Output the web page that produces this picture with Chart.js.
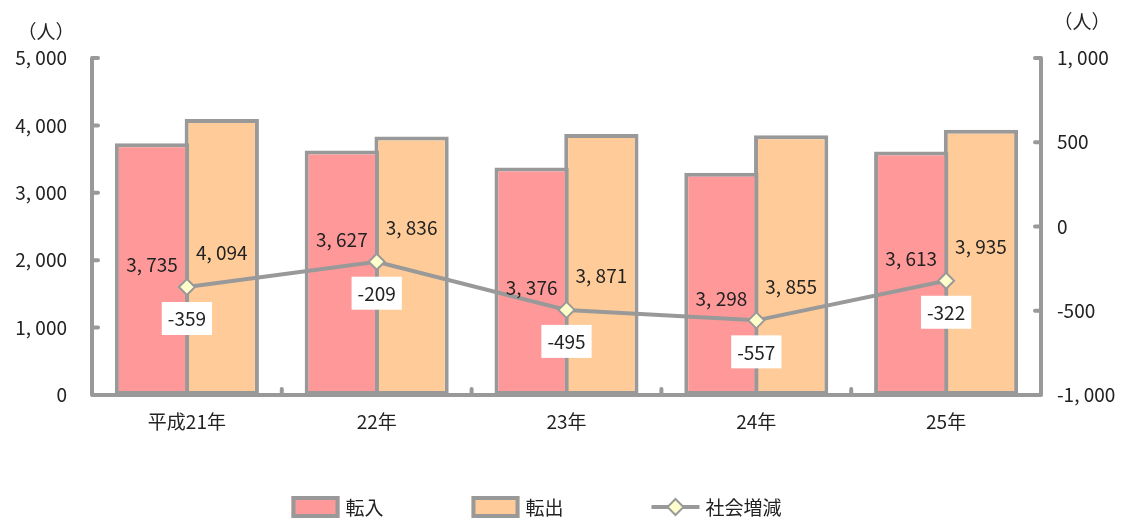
<!DOCTYPE html>
<html lang="ja">
<head>
<meta charset="utf-8">
<script src="https://cdn.jsdelivr.net/npm/chart.js@4"></script>
<style>
html, body { margin: 0; padding: 0; background: #fff; }
</style>
</head>
<body>
<canvas id="myChart" width="1133" height="523"></canvas>
<script>
const years = ['平成21年', '22年', '23年', '24年', '25年']
const tennyu = [3735, 3627, 3376, 3298, 3613]
const tenshutsu = [4094, 3836, 3871, 3855, 3935]
const shakai = [-359, -209, -495, -557, -322]
const seriesNames = ['転入', '転出', '社会増減']
const unitLabel = '（人）'

const GRAY = '#999999'
const PINK = '#FF9999'
const ORANGE = '#FFCC99'
const FONT = '"Noto Sans CJK JP", "Noto Sans", sans-serif'
const FSIZE = 19

const fmt = v => v.toLocaleString('en-US').replace(',', ', ')

// axis lines + small inner ticks, like the original
const axisPlugin = {
    id: 'axes',
    afterDatasetsDraw(chart) {
        const ctx = chart.ctx
        const a = chart.chartArea
        const ys = chart.scales.y
        const yr = chart.scales.y1
        ctx.save()
        ctx.strokeStyle = GRAY
        ctx.lineWidth = 4
        ctx.lineCap = 'round'
        ctx.beginPath()
        ctx.moveTo(a.left, a.top); ctx.lineTo(a.left, a.bottom)
        ctx.moveTo(a.right, a.top); ctx.lineTo(a.right, a.bottom)
        ctx.moveTo(a.left, a.bottom); ctx.lineTo(a.right, a.bottom)
        ys.ticks.forEach(t => {
            const y = ys.getPixelForValue(t.value)
            ctx.moveTo(a.left, y); ctx.lineTo(a.left + 6, y)
        })
        yr.ticks.forEach(t => {
            const y = yr.getPixelForValue(t.value)
            ctx.moveTo(a.right, y); ctx.lineTo(a.right - 6, y)
        })
        const step = a.width / years.length
        for (let i = 1; i < years.length; i++) {
            const x = a.left + step * i
            ctx.moveTo(x, a.bottom); ctx.lineTo(x, a.bottom - 6)
        }
        ctx.stroke()
        ctx.restore()
    }
}

// value labels, unit titles and the legend
const labelPlugin = {
    id: 'labels',
    afterDraw(chart) {
        const ctx = chart.ctx
        const line = chart.getDatasetMeta(0).data
        const inBars = chart.getDatasetMeta(1).data
        const outBars = chart.getDatasetMeta(2).data
        ctx.save()
        ctx.font = FSIZE + 'px ' + FONT
        ctx.fillStyle = '#222'
        ctx.textAlign = 'center'
        ctx.textBaseline = 'middle'

        line.forEach((pt, i) => {
            ctx.fillText(fmt(tennyu[i]), inBars[i].x, pt.y - 22)
            ctx.fillText(fmt(tenshutsu[i]), outBars[i].x, pt.y - 34)
            const txt = String(shakai[i])
            const w = ctx.measureText(txt).width + 12
            ctx.fillStyle = '#fff'
            ctx.fillRect(pt.x - w / 2, pt.y + 15, w, 33)
            ctx.fillStyle = '#222'
            ctx.fillText(txt, pt.x, pt.y + 32)
        })

        ctx.fillText(unitLabel, 46, 32)
        ctx.fillText(unitLabel, 1082, 22)

        // legend
        const cx = chart.width / 2
        const ly = 507
        const starts = [cx - 275, cx - 95, cx + 85]
        ctx.textAlign = 'left'
        ;[PINK, ORANGE].forEach((c, i) => {
            const x = starts[i]
            ctx.fillStyle = c
            ctx.fillRect(x, ly - 11, 48, 22)
            ctx.strokeStyle = GRAY
            ctx.lineWidth = 4
            ctx.strokeRect(x + 2, ly - 9, 44, 18)
            ctx.fillStyle = '#222'
            ctx.fillText(seriesNames[i], x + 54, ly + 1)
        })
        const x3 = starts[2]
        ctx.strokeStyle = GRAY
        ctx.lineWidth = 4
        ctx.beginPath()
        ctx.moveTo(x3, ly); ctx.lineTo(x3 + 48, ly)
        ctx.stroke()
        ctx.beginPath()
        ctx.moveTo(x3 + 24, ly - 8); ctx.lineTo(x3 + 32, ly)
        ctx.lineTo(x3 + 24, ly + 8); ctx.lineTo(x3 + 16, ly)
        ctx.closePath()
        ctx.fillStyle = '#FFFFCC'
        ctx.fill()
        ctx.lineWidth = 2
        ctx.stroke()
        ctx.fillStyle = '#222'
        ctx.fillText(seriesNames[2], x3 + 54, ly + 1)
        ctx.restore()
    }
}

const ctx = document.getElementById('myChart')

const myChart = new Chart(ctx, {
    type: 'bar',
    data: {
        labels: years,
        datasets: [{
            type: 'line',
            label: seriesNames[2],
            data: shakai,
            yAxisID: 'y1',
            order: 0,
            borderColor: GRAY,
            borderWidth: 4,
            pointStyle: 'rectRot',
            pointRadius: 8,
            pointBackgroundColor: '#FFFFCC',
            pointBorderColor: GRAY,
            pointBorderWidth: 2
        }, {
            label: seriesNames[0],
            data: tennyu,
            yAxisID: 'y',
            order: 1,
            backgroundColor: PINK,
            borderColor: GRAY,
            borderWidth: 4,
            borderSkipped: false,
            categoryPercentage: 0.735,
            barPercentage: 1.065
        }, {
            label: seriesNames[1],
            data: tenshutsu,
            yAxisID: 'y',
            order: 2,
            backgroundColor: ORANGE,
            borderColor: GRAY,
            borderWidth: 4,
            borderSkipped: false,
            categoryPercentage: 0.735,
            barPercentage: 1.065
        }]
    },
    options: {
        responsive: false,
        animation: false,
        layout: { padding: { top: 58, left: 0, right: 0, bottom: 0 } },
        plugins: {
            legend: { display: false },
            tooltip: { enabled: false }
        },
        scales: {
            x: {
                grid: { display: false, drawTicks: false },
                border: { display: false },
                ticks: { font: { size: FSIZE, family: FONT }, color: '#222', padding: 15 },
                afterFit: s => { s.height = 128 }
            },
            y: {
                position: 'left',
                min: 0,
                max: 5000,
                grid: { display: false, drawTicks: false },
                border: { display: false },
                ticks: { stepSize: 1000, callback: fmt, font: { size: FSIZE, family: FONT }, color: '#222', padding: 25 },
                afterFit: s => { s.width = 92 }
            },
            y1: {
                position: 'right',
                min: -1000,
                max: 1000,
                grid: { display: false, drawTicks: false },
                border: { display: false },
                ticks: { stepSize: 500, callback: fmt, font: { size: FSIZE, family: FONT }, color: '#222', padding: 16 },
                afterFit: s => { s.width = 92 }
            }
        }
    },
    plugins: [axisPlugin, labelPlugin]
})
</script>
</body>
</html>
